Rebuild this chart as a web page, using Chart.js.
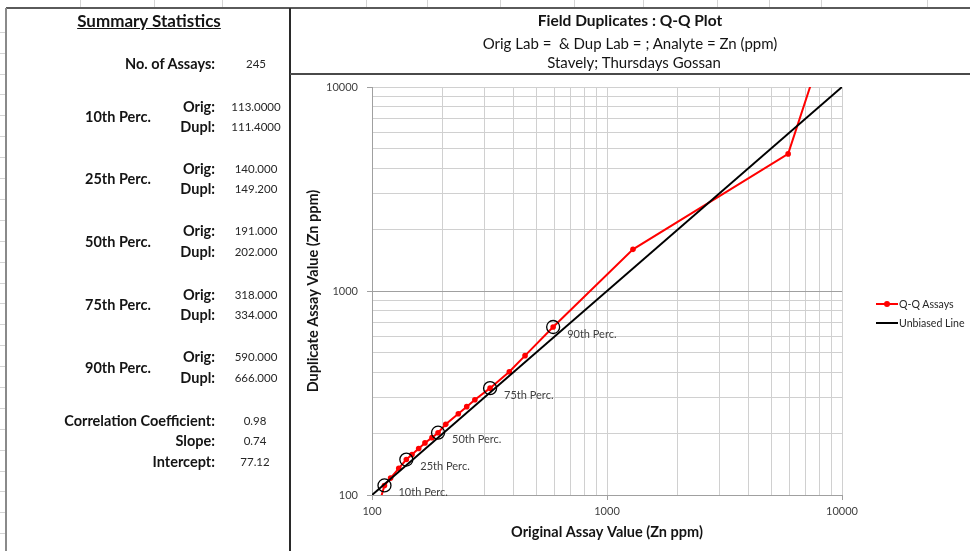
<!DOCTYPE html>
<html>
<head>
<meta charset="utf-8">
<script src="https://cdn.jsdelivr.net/npm/chart.js@4.4.1/dist/chart.umd.min.js"></script>
<style>
html,body{margin:0;padding:0;background:#fff;width:970px;height:551px;overflow:hidden;}
body{font-family:Lato,"Open Sans",sans-serif;color:#000;position:relative;}
.abs{position:absolute;white-space:nowrap;line-height:18px;}
.lbl{font-weight:bold;font-size:14.5px;color:#141414;}
.val{font-size:11.5px;color:#262626;}
.ttl{font-size:15px;color:#141414;}
</style>
</head>
<body>
<canvas id="c" width="970" height="551" style="position:absolute;left:0;top:0;"></canvas>
<div id="overlay"></div>
<script>
// ---------- data ----------
const origQQ = [104, 113, 120, 130, 140, 148, 158, 168, 180, 191, 206, 233, 253, 274, 318, 384, 448, 590, 1290, 5900, 7700];
const dupQQ  = [80, 111.4, 121, 135, 149.2, 158, 169, 180, 191, 202, 222, 250, 271, 293, 334, 402, 482, 666, 1600, 4700, 12000];
const unbiasedX = [100, 10000];
const unbiasedY = [100, 10000];
const percOrig = [113, 140, 191, 318, 590];
const percDup  = [111.4, 149.2, 202, 334, 666];
const percLabels = ["10th Perc.", "25th Perc.", "50th Perc.", "75th Perc.", "90th Perc."];
const gridTicks = [100,200,300,400,500,600,700,800,900,1000,2000,3000,4000,5000,6000,7000,8000,9000,10000];
const labelTicks = [100, 1000, 10000];

const nAssays = "245";
const percNames = ["10th Perc.", "25th Perc.", "50th Perc.", "75th Perc.", "90th Perc."];
const statOrig = ["113.0000", "140.000", "191.000", "318.000", "590.000"];
const statDupl = ["111.4000", "149.200", "202.000", "334.000", "666.000"];
const regLabels = ["Correlation Coefficient:", "Slope:", "Intercept:"];
const regValues = ["0.98", "0.74", "77.12"];

const FONT = 'Lato, "Open Sans", sans-serif';

// ---------- page furniture ----------
const ov = document.getElementById('overlay');
function add(html){ ov.insertAdjacentHTML('beforeend', html); }
function box(l,t,w,h,c){ add(`<div class="abs" style="left:${l}px;top:${t}px;width:${w}px;height:${h}px;background:${c};"></div>`); }
function text(cls, s, x, y, align, extra){
  let pos;
  if (align === 'right') pos = `right:${970 - x}px;text-align:right;`;
  else if (align === 'center') pos = `left:${x - 200}px;width:400px;text-align:center;`;
  else pos = `left:${x}px;`;
  add(`<div class="abs ${cls}" style="${pos}top:${y - 9}px;${extra||''}">${s}</div>`);
}
// faint spreadsheet cell lines at edges
[80,154,222,366,427,500,574,643,717,769,821,927].forEach(x => box(x,0,1,8,'#d4d4d4'));
for (let y = 31.7; y < 551; y += 20.9) box(0, Math.round(y), 6, 1, '#d4d4d4');
// borders
box(6, 7, 964, 2, '#5a5a5a');
box(5, 8, 2, 543, '#8a8a8a');
box(289, 8, 2, 543, '#2a2a2a');
box(290, 73, 680, 2, '#4a4a4a');

// Summary panel
text('lbl', '<span style="font-size:17px;text-decoration:underline;">Summary Statistics</span>', 149, 21, 'center');
text('lbl', 'No. of Assays:', 215, 64, 'right');
text('val', nAssays, 256, 64, 'center');
const rowY = [[107,127],[169,189],[231,252],[295,315],[357,378]];
percNames.forEach((n,i) => {
  const [yo, yd] = rowY[i];
  text('lbl', n, 85, (yo + yd) / 2, 'left');
  text('lbl', 'Orig:', 215, yo, 'right');
  text('lbl', 'Dupl:', 215, yd, 'right');
  text('val', statOrig[i], 256, yo, 'center');
  text('val', statDupl[i], 256, yd, 'center');
});
const regY = [421, 441, 462];
regLabels.forEach((n,i) => {
  text('lbl', n, 215, regY[i], 'right');
  text('val', regValues[i], 255, regY[i], 'center');
});

// Chart titles
text('lbl', '<span style="font-size:15.5px">Field Duplicates : Q-Q Plot</span>', 630, 20, 'center');
text('ttl', 'Orig Lab =&nbsp; &amp; Dup Lab = ; Analyte = Zn (ppm)', 630, 43, 'center');
text('ttl', 'Stavely; Thursdays Gossan', 634, 62, 'center');

// Legend
box(876, 303, 22, 2, '#ff0000');
add(`<div class="abs" style="left:884px;top:301px;width:6px;height:6px;border-radius:50%;background:#ff0000;"></div>`);
text('val', '<span style="font-size:10.6px">Q-Q Assays</span>', 899, 304, 'left');
box(876, 322, 22, 2, '#000000');
text('val', '<span style="font-size:10.6px">Unbiased Line</span>', 899, 323, 'left');

// ---------- chart ----------
const pts = (xs, ys) => xs.map((x, i) => ({x, y: ys[i]}));

const percLabelPlugin = {
  id: 'percLabels',
  afterDatasetsDraw(chart) {
    const {ctx, scales: {x, y}} = chart;
    ctx.save();
    ctx.font = '11px ' + FONT;
    ctx.fillStyle = '#404040';
    ctx.textAlign = 'left';
    ctx.textBaseline = 'middle';
    percLabels.forEach((t, i) => {
      ctx.fillText(t, x.getPixelForValue(percOrig[i]) + 14, y.getPixelForValue(percDup[i]) + 7);
    });
    ctx.restore();
  }
};

function axis(isY, title) {
  return {
    type: 'logarithmic',
    min: 100, max: 10000,
    afterBuildTicks: s => { s.ticks = gridTicks.map(v => ({value: v, major: labelTicks.includes(v)})); },
    afterFit: s => { if (isY) s.width = 82; else s.height = 56; },
    ticks: {
      autoSkip: false, maxRotation: 0, minRotation: 0,
      padding: isY ? 9 : 5,
      color: '#404040',
      font: {family: FONT, size: 11},
      callback: v => labelTicks.includes(v) ? String(v) : ''
    },
    grid: {
      color: c => (isY && c.tick && c.tick.value === 1000) ? '#a0a0a0' : '#d0d0d0',
      lineWidth: 1,
      drawTicks: true,
      tickLength: 5,
      tickColor: c => (c.tick && labelTicks.includes(c.tick.value)) ? '#a0a0a0' : 'rgba(0,0,0,0)'
    },
    border: {display: true, color: '#a0a0a0', width: 1},
    title: {
      display: true, text: title, color: '#141414',
      font: {family: FONT, size: 14.5, weight: 'bold'},
      padding: isY ? {top: 15, bottom: 0} : {top: 0, bottom: 10}
    }
  };
}

new Chart(document.getElementById('c'), {
  type: 'scatter',
  data: {
    datasets: [
      {
        label: 'Percentiles',
        data: pts(percOrig, percDup),
        showLine: false,
        pointStyle: 'circle',
        pointRadius: 6.5,
        pointBorderWidth: 1.3,
        pointBorderColor: '#000',
        pointBackgroundColor: 'rgba(0,0,0,0)',
        order: 1
      },
      {
        label: 'Unbiased Line',
        data: pts(unbiasedX, unbiasedY),
        showLine: true,
        borderColor: '#000',
        borderWidth: 2,
        pointRadius: 0,
        order: 2
      },
      {
        label: 'Q-Q Assays',
        data: pts(origQQ, dupQQ),
        showLine: true,
        borderColor: '#ff0000',
        borderWidth: 2,
        pointRadius: 2.8,
        pointBackgroundColor: '#ff0000',
        pointBorderColor: '#ff0000',
        pointBorderWidth: 0,
        order: 3
      }
    ]
  },
  options: {
    responsive: false,
    animation: false,
    devicePixelRatio: 1,
    layout: {padding: {left: 290, right: 128, top: 87, bottom: 0}},
    plugins: {legend: {display: false}, tooltip: {enabled: false}, title: {display: false}},
    scales: {
      x: Object.assign(axis(false, 'Original Assay Value (Zn ppm)'), {position: 'bottom'}),
      y: Object.assign(axis(true, 'Duplicate Assay Value (Zn ppm)'), {position: 'left'})
    }
  },
  plugins: [percLabelPlugin]
});
</script>
</body>
</html>
